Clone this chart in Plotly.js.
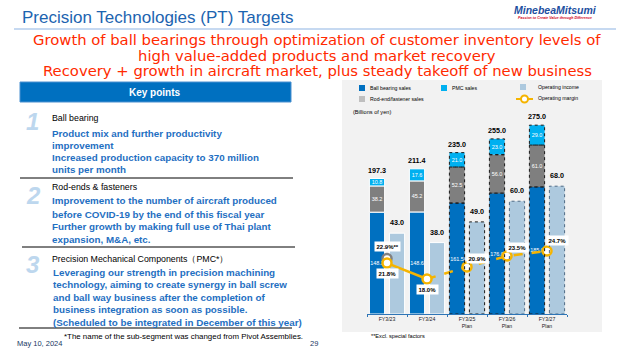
<!DOCTYPE html>
<html><head><meta charset="utf-8">
<script src="https://cdn.plot.ly/plotly-3.0.1.min.js"></script>
<style>html,body{margin:0;padding:0;background:#fff;}#chart{width:622px;height:350px;}</style>
</head><body><div id="chart"></div>
<script>
// ---- data ----
const categories = ['FY3/23','FY3/24','FY3/25','FY3/26','FY3/27'];
const tickLabels = ['FY3/23','FY3/24','FY3/25<br>Plan','FY3/26<br>Plan','FY3/27<br>Plan'];
const ballBearingSales = [148.3,148.6,161.5,176.0,185.0];
const rodEndSales = [38.2,45.2,52.5,56.0,61.0];
const pmcSales = [10.8,17.6,21.0,23.0,29.0];
const totalSales = [197.3,211.4,235.0,255.0,275.0];
const operatingIncome = [43.0,38.0,49.0,60.0,68.0];
const operatingMargin = [21.8,18.0,20.9,23.5,24.7];
const marginExclSpecialCat = ['FY3/23'];
const marginExclSpecial = [22.9];
const isPlan = [false,false,true,true,true];

const W=622,H=350;
const FONT='Arial, "Liberation Sans", sans-serif';
const WIDE='"DejaVu Sans", Verdana, sans-serif';
const px=x=>x/W, py=y=>1-y/H;
function T(text,x,y,o){o=o||{};return {text:text,xref:'paper',yref:'paper',x:px(x),y:py(y),xanchor:o.xa||'left',yanchor:o.ya||'middle',showarrow:false,
  font:{family:o.family||FONT,size:o.size||8,color:o.color||'#000'},align:o.align||'left'};}
function R(x0,y0,x1,y1,fill,line){return {type:'rect',xref:'paper',yref:'paper',x0:px(x0),x1:px(x1),y0:py(y1),y1:py(y0),fillcolor:fill,line:line||{width:0},layer:'below'};}
function L(x0,y0,x1,y1,color,w){return {type:'line',xref:'paper',yref:'paper',x0:px(x0),x1:px(x1),y0:py(y0),y1:py(y1),line:{color:color,width:w||1}};}

const baseRE = ballBearingSales.map(v=>v);
const basePMC = ballBearingSales.map((v,i)=>v+rodEndSales[i]);
const SO=-0.44, SW=0.38, OO=0.06, OW=0.38;
const lw = isPlan.map(p=>p?0:1);

const C_BB='#0070c0', C_RE='#7f7f7f', C_PMC='#00b0f0', C_OI='#adc9de', C_M='#f5b400';

function seg(y,base,color,name){return {type:'bar',name:name,x:categories,y:y,base:base,offset:SO,width:SW,
  marker:{color:color,line:{color:'#ffffff',width:lw}},
  text:y.map(v=>v.toFixed(1)),textposition:'inside',insidetextanchor:'middle',textangle:0,constraintext:'none',
  textfont:{family:FONT,size:5.5,color:'#ffffff'},hoverinfo:'skip',cliponaxis:false};}

const traces=[
  seg(ballBearingSales,ballBearingSales.map(()=>0),C_BB,'Ball bearing sales'),
  seg(rodEndSales,baseRE,C_RE,'Rod-end/fastener sales'),
  seg(pmcSales,basePMC,C_PMC,'PMC sales'),
  {type:'bar',name:'Operating income',x:categories,y:operatingIncome,offset:OO,width:OW,yaxis:'y2',
    marker:{color:C_OI,line:{color:'#ffffff',width:lw}},hoverinfo:'skip'},
  {type:'scatter',mode:'lines',x:categories.slice(0,2),y:operatingMargin.slice(0,2),yaxis:'y3',
    line:{color:C_M,width:2.5},hoverinfo:'skip'},
  {type:'scatter',mode:'lines',x:categories.slice(1),y:operatingMargin.slice(1),yaxis:'y3',
    line:{color:C_M,width:2.5,dash:'dash'},hoverinfo:'skip'},
  {type:'scatter',mode:'markers',x:marginExclSpecialCat,y:marginExclSpecial,yaxis:'y3',
    marker:{symbol:'circle',size:9,color:'#ffffff',line:{color:'#808080',width:2.5}},hoverinfo:'skip'},
  {type:'scatter',mode:'markers',x:categories,y:operatingMargin,yaxis:'y3',
    marker:{symbol:'circle',size:9,color:'#ffffff',line:{color:C_M,width:2.5}},hoverinfo:'skip'}
];

const shapes=[];
shapes.push(R(342,80,602,332,'#f2f2f2'));
shapes.push(L(14,29,616,29,'#8eb4e3',1.2));
shapes.push(R(20,82,291,102,'#0070c0',{color:'#4a90d0',width:1}));
shapes.push(L(20,178,293,178,'#000',1));
shapes.push(L(22,247,295,247,'#000',1));
shapes.push(L(19,328,292,328,'#000',1));
// chart legend symbols
shapes.push(R(359,85,365,91,C_BB));
shapes.push(R(441,85,447,91,C_PMC));
shapes.push(R(520,84,526,90,C_OI));
shapes.push(R(359,96,365,102,'#bfbfbf'));
shapes.push(L(516,99,533,99,C_M,2));
shapes.push({type:'circle',xref:'paper',yref:'paper',x0:px(521),x1:px(528),y0:py(102.5),y1:py(95.5),fillcolor:'#fff',line:{color:C_M,width:2}});
// dotted outlines for plan bars
categories.forEach((c,i)=>{
  if(!isPlan[i]) return;
  const segs=[[0,ballBearingSales[i]],[baseRE[i],baseRE[i]+rodEndSales[i]],[basePMC[i],basePMC[i]+pmcSales[i]]];
  segs.forEach(s=>shapes.push({type:'rect',xref:'x',yref:'y',x0:i+SO,x1:i+SO+SW,y0:s[0],y1:s[1],
    line:{color:'#1a1a1a',width:1,dash:'dot'},fillcolor:'rgba(0,0,0,0)'}));
  shapes.push({type:'rect',xref:'x',yref:'y2',x0:i+OO,x1:i+OO+OW,y0:0,y1:operatingIncome[i],
    line:{color:i===2?'#1a1a1a':'#4f6b85',width:1,dash:'dot'},fillcolor:'rgba(0,0,0,0)'});
});

const ann=[];
ann.push(T('Precision Technologies (PT) Targets',20,18,{size:17,color:'#1c64b0'}));
ann.push(T('<b><i>MinebeaMitsumi</i></b>',555,10,{size:10.5,color:'#1d4fa0',xa:'center'}));
ann.push(T('<b><i>Passion to Create Value through Difference</i></b>',555,18,{size:3.6,color:'#d0021b',xa:'center'}));
const RED='#ff2a00';
ann.push(T('Growth of ball bearings through optimization of customer inventory levels of',317,39,{size:14.8,color:RED,xa:'center',family:WIDE}));
ann.push(T('high value-added products and market recovery',317,55,{size:14.8,color:RED,xa:'center',family:WIDE}));
ann.push(T('Recovery + growth in aircraft market, plus steady takeoff of new business',317,70.5,{size:14.8,color:RED,xa:'center',family:WIDE}));
// key points
ann.push(T('<b>Key points</b>',155,92,{size:10,color:'#fff',xa:'center'}));
const NUM='#bdd7ee', BL='#1f6fc2', BS=9.8;
ann.push(T('<b><i>1</i></b>',24,122,{size:24,color:NUM}));
ann.push(T('<b><i>2</i></b>',24,195,{size:24,color:NUM}));
ann.push(T('<b><i>3</i></b>',24,264,{size:24,color:NUM}));
ann.push(T('Ball bearing',50,118,{size:8.8}));
[['Product mix and further productivity',133],['improvement',145],['Increased production capacity to 370 million',157],['units per month',169]]
  .forEach(a=>ann.push(T('<b>'+a[0]+'</b>',50,a[1],{size:BS,color:BL})));
ann.push(T('Rod-ends & fasteners',50,187,{size:8.8}));
[['Improvement to the number of aircraft produced',200],['before COVID-19 by the end of this fiscal year',214],['Further growth by making full use of Thai plant',226],['expansion, M&A, etc.',239]]
  .forEach(a=>ann.push(T('<b>'+a[0]+'</b>',50,a[1],{size:BS,color:BL})));
ann.push(T('Precision Mechanical Components（PMC*）',50,259,{size:8.8}));
[['Leveraging our strength in precision machining',272],['technology, aiming to create synergy in ball screw',284],['and ball way business after the completion of',297],['business integration as soon as possible.',309],['(Scheduled to be integrated in December of this year)',322]]
  .forEach(a=>ann.push(T('<b>'+a[0]+'</b>',51,a[1],{size:BS,color:BL})));
ann.push(T('*The name of the sub-segment was changed from Pivot Assemblies.',62,336,{size:7.9}));
ann.push(T('May 10, 2024',15,343,{size:7.5,color:'#203864'}));
ann.push(T('29',308,343,{size:7.5,color:'#203864'}));
// chart legend texts
ann.push(T('Ball bearing sales',368,88,{size:5.2}));
ann.push(T('PMC sales',450,88,{size:5.2}));
ann.push(T('Operating income',536,87,{size:5.2}));
ann.push(T('Rod-end/fastener sales',368,99,{size:5.2}));
ann.push(T('Operating margin',536,98,{size:5.2}));
ann.push(T('(Billions of yen)',351,112,{size:5.6}));
ann.push(T('**Excl. special factors',369,336,{size:5.6}));
// totals & operating income labels
categories.forEach((c,i)=>{
  ann.push({text:'<b>'+totalSales[i].toFixed(1)+'</b>',x:c,y:totalSales[i],xref:'x',yref:'y',xshift:-10,yshift:2,yanchor:'bottom',
    showarrow:false,font:{family:FONT,size:7.2,color:'#000'}});
  ann.push({text:'<b>'+operatingIncome[i].toFixed(1)+'</b>',x:c,y:operatingIncome[i],xref:'x',yref:'y2',xshift:10,yshift:4,yanchor:'bottom',
    showarrow:false,font:{family:FONT,size:7.2,color:'#000'}});
});
// margin labels
const mShift=[[0,-10],[0,-10],[10,8],[10,9],[10,10]];
categories.forEach((c,i)=>{
  ann.push({text:'<b>'+operatingMargin[i].toFixed(1)+'%</b>',x:c,y:operatingMargin[i],xref:'x',yref:'y3',
    xshift:mShift[i][0],yshift:mShift[i][1],showarrow:false,bgcolor:'#ffffff',borderpad:1.5,
    font:{family:FONT,size:6,color:'#000'}});
});
ann.push({text:'<b>'+marginExclSpecial[0].toFixed(1)+'%**</b>',x:marginExclSpecialCat[0],y:marginExclSpecial[0],xref:'x',yref:'y3',
  yshift:12,showarrow:false,bgcolor:'#ffffff',borderpad:1.5,font:{family:FONT,size:6,color:'#000'}});

const yDom=[(H-314)/H,(H-108)/H];
const layout={
  width:W,height:H,margin:{l:0,r:0,t:0,b:0},paper_bgcolor:'#ffffff',plot_bgcolor:'rgba(0,0,0,0)',
  showlegend:false,barmode:'overlay',font:{family:FONT},
  xaxis:{type:'category',domain:[367/W,567/W],range:[-0.5,4.5],tickvals:categories,ticktext:tickLabels,
    showline:true,linecolor:'#2e75b6',linewidth:1,ticks:'outside',tickson:'boundaries',ticklen:2,tickcolor:'#2e75b6',
    tickfont:{family:FONT,size:5.2,color:'#222'},showgrid:false,zeroline:false,fixedrange:true},
  yaxis:{domain:yDom,range:[0,300],visible:false,fixedrange:true},
  yaxis2:{overlaying:'y',range:[0,109.6],visible:false,fixedrange:true},
  yaxis3:{overlaying:'y',range:[9.63,58.9],visible:false,fixedrange:true},
  shapes:shapes,annotations:ann
};
Plotly.newPlot('chart',traces,layout,{staticPlot:true,displayModeBar:false});
</script></body></html>
